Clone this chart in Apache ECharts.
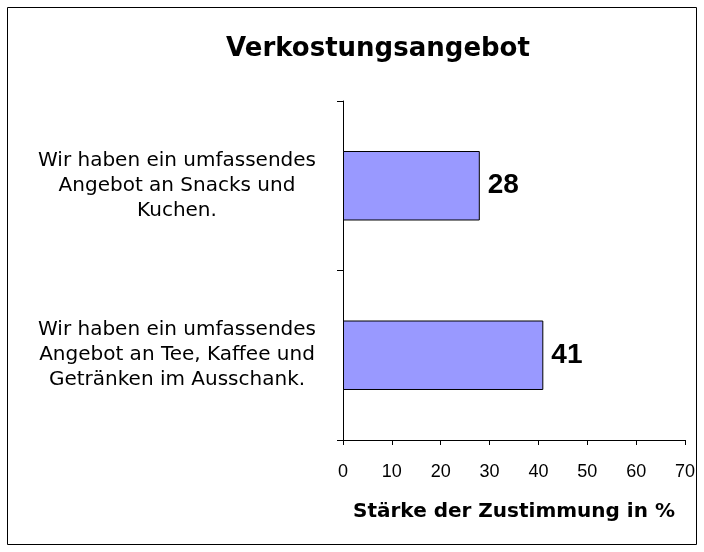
<!DOCTYPE html>
<html>
<head>
<meta charset="utf-8">
<style>
  html, body { margin: 0; padding: 0; background: #fff; }
  #chart { width: 704px; height: 552px; }
</style>
<script src="https://cdn.jsdelivr.net/npm/echarts@6/dist/echarts.min.js"></script>
</head>
<body>
<div id="chart"></div>
<script>
var categories = [
  'Wir haben ein umfassendes\nAngebot an Snacks und\nKuchen.',
  'Wir haben ein umfassendes\nAngebot an Tee, Kaffee und\nGetränken im Ausschank.'
];
var values = [28, 41];
var xTicks = { min: 0, max: 70, interval: 10 };

// the reference text is wide, DejaVu fits its width better than Arial
var wideFont = '"DejaVu Sans", sans-serif';
var numFont = '"Liberation Sans", Arial, sans-serif';
var chart = echarts.init(document.getElementById('chart'));

var option = {
  animation: false,
  textStyle: { fontFamily: numFont },
  title: {
    text: 'Verkostungsangebot',
    left: 373,
    textAlign: 'center',
    top: 31,
    textStyle: { fontFamily: wideFont, fontSize: 26, fontWeight: 'bold', color: '#000' }
  },
  graphic: [{
    type: 'rect',
    shape: { x: 7.5, y: 7.5, width: 689, height: 537 },
    style: { fill: 'none', stroke: '#000', lineWidth: 1 }
  }],
  grid: { left: 343, right: 19, top: 101, bottom: 112 },
  xAxis: {
    type: 'value',
    min: xTicks.min,
    max: xTicks.max,
    interval: xTicks.interval,
    name: 'Stärke der Zustimmung in %',
    nameLocation: 'middle',
    nameGap: 62,
    nameTextStyle: { fontFamily: wideFont, fontSize: 20, fontWeight: 'bold', color: '#000' },
    axisLine: { show: true, lineStyle: { color: '#000', width: 1 } },
    axisTick: { show: true, length: 5, lineStyle: { color: '#000' } },
    axisLabel: { fontFamily: numFont, fontSize: 18, color: '#000', margin: 23 },
    splitLine: { show: false }
  },
  yAxis: {
    type: 'category',
    inverse: true,
    data: categories,
    axisLine: { show: true, lineStyle: { color: '#000', width: 1 } },
    axisTick: { show: true, length: 6, lineStyle: { color: '#000' } },
    axisLabel: {
      fontFamily: wideFont, fontSize: 20, color: '#000',
      align: 'center', margin: 166, lineHeight: 25, padding: [0, 0, 10, 0]
    }
  },
  series: [{
    type: 'bar',
    data: values,
    barCategoryGap: '59%',
    itemStyle: { color: '#9999ff', borderColor: '#000', borderWidth: 1 },
    label: {
      show: true,
      position: 'right',
      distance: 8,
      fontFamily: numFont,
      fontSize: 28,
      fontWeight: 'bold',
      color: '#000'
    }
  }]
};
chart.setOption(option);
</script>
</body>
</html>
